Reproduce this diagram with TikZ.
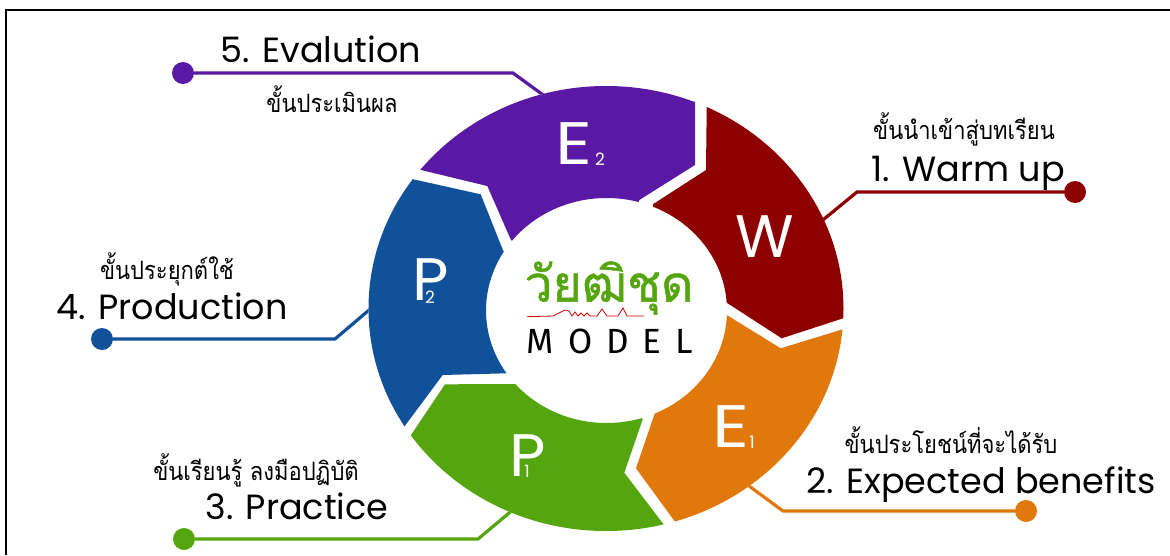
\documentclass[tikz,border=0pt]{standalone}
\usepackage{fontspec}
\setmainfont{Poppins}
\newfontfamily\thaifont[Script=Thai]{Loma}
\newfontfamily\thaibold[Script=Thai,FakeBold=1]{Loma}
\newfontfamily\modelfont{Fira Sans}
\definecolor{cW}{HTML}{8E0000}
\definecolor{cEa}{HTML}{E0780C}
\definecolor{cPa}{HTML}{55A50F}
\definecolor{cPb}{HTML}{11519A}
\definecolor{cEb}{HTML}{5A19A5}
\tikzset{
  big/.style={font=\fontsize{35}{38}\selectfont,text=black,inner sep=0pt,anchor=base},
  thai/.style={font=\thaifont\fontsize{22}{24}\selectfont,text=black,inner sep=0pt,anchor=base,yscale=1.15},
  ltr/.style={font=\fontsize{60}{62}\selectfont,text=white,inner sep=0pt},
  sub/.style={font=\fontsize{17}{18}\selectfont,text=white,inner sep=0pt},
  dot/.style={circle,fill=#1,minimum size=22pt,inner sep=0pt},
  conn/.style={draw=#1,line width=3.2pt}
}
\begin{document}
\begin{tikzpicture}[x=1pt,y=-1pt]
\useasboundingbox (0,0) rectangle (1170,555);
\fill[white] (0,0) rectangle (1170,555);
\draw[black,line width=1.8pt] (6,555) -- (6,10) -- (1170,10);
% connectors under the ring
\node[dot=cEb] (d5) at (183,73) {};
\node[dot=cW] (d1) at (1075,192) {};
\node[dot=cEa] (d2) at (1026,511) {};
\node[dot=cPa] (d3) at (184,539) {};
\node[dot=cPb] (d4) at (102,339) {};
\coordinate (e5) at (550,100); \coordinate (k5) at (513,73);
\coordinate (e1) at (818,224); \coordinate (k1) at (857,192);
\coordinate (e2) at (745,483); \coordinate (k2) at (783,511);
\coordinate (e3) at (515,508); \coordinate (k3) at (478,539);
\coordinate (e4) at (375,305); \coordinate (k4) at (335,339);
\draw[conn=cEb] (d5) -- (k5) -- (e5);
\draw[conn=cW] (d1) -- (k1) -- (e1);
\draw[conn=cEa] (d2) -- (k2) -- (e2);
\draw[conn=cPa] (d3) -- (k3) -- (e3);
\draw[conn=cPb] (d4) -- (k4) -- (e4);
% ring
\begin{scope}[even odd rule]
\clip (606,308.5) ellipse [x radius=237.5,y radius=222.5] (606.5,310.5) ellipse [x radius=120.5,y radius=112.5];
\fill[white] (360,80) rectangle (850,540);
\fill[cW] (706.7,108.3) -- (707,60) -- (900,60) -- (900,310) -- (844,318) -- (781.7,338.3) -- (726.7,302.7) -- (640,290) -- (653.3,204) -- (706,170) -- cycle;
\fill[cEa] (842.7,329.3) -- (900,312) -- (900,560) -- (710,560) -- (675,521.7) -- (636,468.3) -- (655,412.7) -- (620,300) -- (726.7,315) -- (780.7,348.3) -- cycle;
\fill[cPa] (642.7,419.3) -- (624.3,472.7) -- (663.3,524) -- (690,560) -- (380,560) -- (380,470) -- (411,435) -- (445,384.3) -- (515,384) -- (600,310) -- cycle;
\fill[cPb] (506.7,373.3) -- (442.7,375) -- (405,425.7) -- (380,460) -- (340,460) -- (340,150) -- (405,177) -- (413.3,179.3) -- (480.7,194.3) -- (503.3,251) -- (600,310) -- cycle;
\fill[cEb] (511,240) -- (487.3,186) -- (421,170) -- (395,164) -- (395,60) -- (695,60) -- (695,165) -- (639.3,200) -- (600,300) -- cycle;
\end{scope}
% letters
\node[ltr] (W) at (765,237) {W};
\node[ltr,xscale=1.2] (E1) at (731,427) {E};
\node[sub] (E1s) at (752,442) {1};
\node[ltr,xscale=1.05] (P1) at (528,456) {P};
\node[sub] (P1s) at (527,471) {1};
\node[ltr,xscale=1.05] (P2) at (431,280) {P};
\node[sub] (P2s) at (430,297) {2};
\node[ltr,xscale=1.2] (E2) at (574,144) {E};
\node[sub] (E2s) at (600,159) {2};
% logo
\node[inner sep=0pt,text=cPa,font=\thaibold\fontsize{50}{54}\selectfont] (logo) at (609,288) {วัยฒิชุด};
\draw[red!85!black,line width=0.8pt] (527,316.7) -- (553,316) -- (565,310) -- (569,311) -- (572,316) -- (575,312) -- (578,316) -- (581,313) -- (584,316) -- (587,313) -- (590,316) -- (597,316) -- (602,309) -- (607,316) -- (618,316) -- (623,308) -- (627,316) -- (644,316);
\node[inner sep=0pt,text=black,font=\modelfont\fontsize{35}{36}\selectfont] (model) at (610,341) {M\hspace{14pt}O\hspace{14pt}D\hspace{14pt}E\hspace{14pt}L};
% labels
\node[big] (t5) at (321,62) {5. Evalution};
\node[thai] (s5) at (332,112) {ขั้นประเมินผล};
\node[thai] (s1) at (964,139) {ขั้นนำเข้าสู่บทเรียน};
\node[big] (t1) at (968,181.5) {1. Warm up};
\node[thai] (s4) at (167,279) {ขั้นประยุกต์ใช้};
\node[big] (t4) at (172,319) {4. Production};
\node[thai] (s3) at (256,480) {ขั้นเรียนรู้ ลงมือปฏิบัติ};
\node[big] (t3) at (297,519.5) {3. Practice};
\node[thai] (s2) at (951,453) {ขั้นประโยชน์ที่จะได้รับ};
\node[big] (t2) at (981,493) {2. Expected benefits};
\end{tikzpicture}
\end{document}
